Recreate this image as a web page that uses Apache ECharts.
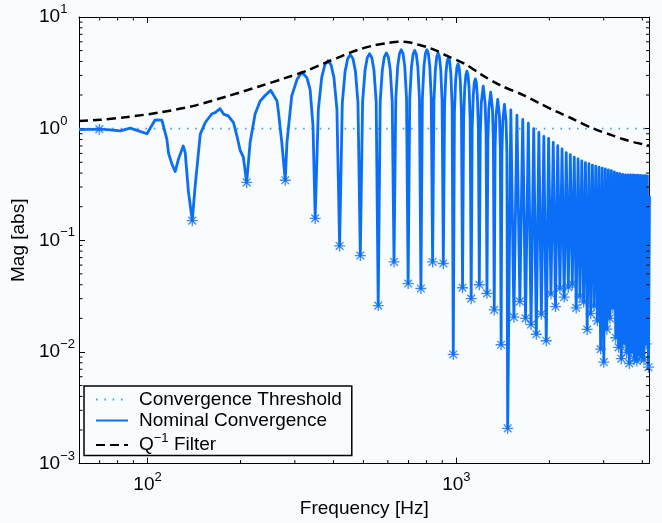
<!DOCTYPE html>
<html><head><meta charset="utf-8">
<script src="https://cdn.jsdelivr.net/npm/echarts@6/dist/echarts.min.js"></script>
<style>html,body{margin:0;padding:0;background:#f9fcfe}#c{width:662px;height:523px}</style>
</head><body><div id="c"></div>
<script>
// ---------- data ----------
const xRange = [60, 4220];
const yRange = [0.001, 10];
const xMinorTicks = [70, 80, 90, 200, 300, 400, 500, 600, 700, 800, 900, 2000, 3000, 4000];
const yMinorTicks = [0.002,0.003,0.004,0.005,0.006,0.007,0.008,0.009,
  0.02,0.03,0.04,0.05,0.06,0.07,0.08,0.09,
  0.2,0.3,0.4,0.5,0.6,0.7,0.8,0.9,
  2,3,4,5,6,7,8,9];

const thresholdFreq = [60, 4220];
const thresholdMag = [1, 1];

// notches of the nominal convergence curve (marked with *)
const notchFreq = [69.8,139.6,209.4,279.2,349,418.8,488.6,558.4,628.2,698,
  767.8,837.6,907.4,977.2,1047,1116.8,1186.6,1256.4,1326.2,1396,
  1465.8,1535.6,1605.4,1675.2,1745,1814.8,1884.6,1954.4,2024.2,2094,
  2163.8,2233.6,2303.4,2373.2,2443,2512.8,2582.6,2652.4,2722.2,2792,
  2861.8,2931.6,3001.4,3071.2,3141,3210.8,3280.6,3350.4,3420.2,3490,
  3559.8,3629.6,3699.4,3769.2,3839,3908.8,3978.6,4048.4,4118.2,4188];
const notchMag = [0.99,0.15,0.33,0.345,0.157,0.089,0.073,0.026,0.064,0.041,
  0.037,0.064,0.062,0.0095,0.0376,0.030,0.040,0.0335,0.0238,0.0116,
  0.00207,0.0205,0.0284,0.020,0.0176,0.0144,0.0218,0.0126,0.033,0.0255,
  0.037,0.031,0.038,0.0405,0.0248,0.0316,0.028,0.0159,0.022,0.0258,
  0.019,0.0106,0.0081,0.016,0.02,0.0248,0.0134,0.011,0.0087,0.012,
  0.0099,0.0079,0.010,0.0087,0.0083,0.0095,0.009,0.0085,0.0118,0.0073];

// remaining points of the nominal convergence curve (lobes between notches)
const lobePoints = [
  [60,0.98],[76,0.975],[81.6,0.955],[87.9,1.01],[93,0.96],[99.6,0.90],[105.9,1.2],[111.3,1.19],
  [115.5,0.806],[117,0.6],[119.9,0.483],[122.9,0.413],[126,0.536],[130.5,0.70],[132.4,0.614],[135.7,0.271],
  [142.7,0.31],[148.2,0.894],[153.8,1.135],[161.6,1.36],[165.6,1.39],[171.8,1.51],[176.3,1.35],[182.6,1.30],
  [189.8,1.135],[194.7,0.863],[199.5,0.64],[204.3,0.555],
  [214.9,0.754],[223,1.35],[231.6,1.77],[240.3,1.98],[250.5,2.21],[262.6,1.77],[265.6,1.39],[272.1,0.754],
  [282.8,0.754],[293,1.96],[304.7,2.75],[316,3.2],[328.3,2.85],[336.1,2.24],[343.4,1.06],
  [357.4,1.5],[366.5,2.88],[375.2,3.74],[383.9,4.05],[392.6,3.74],[401.3,2.88],[410.4,1.5],
  [427.2,1.7],[436.3,3.27],[445,4.25],[453.7,4.6],[462.4,4.25],[471.2,3.27],[480.2,1.7],
  [497,1.74],[506.1,3.33],[514.8,4.33],[523.5,4.69],[532.2,4.33],[541,3.33],[550,1.74],
  [566.8,1.76],[575.9,3.38],[584.6,4.4],[593.3,4.76],[602,4.4],[610.8,3.38],[619.8,1.76],
  [636.6,1.88],[645.7,3.61],[654.4,4.7],[663.1,5.09],[671.8,4.7],[680.6,3.61],[689.6,1.88],
  [706.4,1.86],[715.5,3.56],[724.2,4.64],[732.9,5.02],[741.6,4.64],[750.4,3.56],[759.4,1.86],
  [776.2,1.88],[785.3,3.61],[794,4.7],[802.7,5.09],[811.4,4.7],[820.2,3.61],[829.2,1.88],
  [846,1.76],[855.1,3.38],[863.8,4.4],[872.5,4.76],[881.2,4.4],[890,3.38],[899,1.76],
  [915.8,1.61],[924.9,3.09],[933.6,4.02],[942.3,4.35],[951,4.02],[959.8,3.09],[968.8,1.61],
  [985.6,1.41],[994.7,2.7],[1003.4,3.51],[1012.1,3.8],[1020.8,3.51],[1029.6,2.7],[1038.6,1.41],
  [1055.4,1.21],[1064.5,2.32],[1073.2,3.02],[1081.9,3.27],[1090.6,3.02],[1099.4,2.32],[1108.4,1.21],
  [1125.2,1.03],[1134.3,1.98],[1143,2.58],[1151.7,2.79],[1160.4,2.58],[1169.2,1.98],[1178.2,1.03],
  [1195,0.89],[1204.1,1.70],[1221.5,2.40],[1239,1.70],[1248,0.89],
  [1264.8,0.78],[1273.9,1.5],[1291.3,2.12],[1308.8,1.5],[1317.8,0.78],
  [1334.6,0.68],[1343.7,1.3],[1361.1,1.83],[1378.6,1.3],[1387.6,0.68],
  [1404.4,0.61],[1413.5,1.17],[1430.9,1.65],[1448.4,1.17],[1457.4,0.61],
  [1500.7,1.47],[1570.5,1.32],[1640.3,1.21],[1710.1,1.12],[1779.9,1.00],
  [1849.7,0.925],[1919.5,0.852],[1989.3,0.818],[2059.1,0.754],[2128.9,0.703],
  [2198.7,0.66],[2268.5,0.61],[2338.3,0.585],[2408.1,0.557],[2477.9,0.535],
  [2547.7,0.515],[2617.5,0.497],[2687.3,0.485],[2757.1,0.472],[2826.9,0.462],
  [2896.7,0.452],[2966.5,0.443],[3036.3,0.435],[3106.1,0.428],[3175.9,0.42],
  [3245.7,0.41],[3315.5,0.40],[3385.3,0.395],[3455.1,0.39],[3524.9,0.386],
  [3594.7,0.386],[3664.5,0.385],[3734.3,0.385],[3804.1,0.384],[3873.9,0.383],
  [3943.7,0.382],[4013.5,0.38],[4083.3,0.379],[4153.1,0.378],[4220,0.25]
];

// Q^-1 filter
const qFreq = [60,70,86,110,141,181,231,280,328,381,420,453,488,539,600,650,700,745,800,865,930,1057,1205,1386,1647,1861,2113,2386,2780,3200,3455,3800,4122,4220];
const qMag  = [1.17,1.20,1.27,1.40,1.6,1.95,2.4,2.85,3.3,3.95,4.4,4.8,5.15,5.55,5.85,6.0,5.95,5.7,5.4,4.98,4.5,3.85,3.05,2.45,2.0,1.68,1.42,1.22,1.0,0.87,0.807,0.75,0.713,0.70];

const legendNames = ['Convergence Threshold', 'Nominal Convergence', 'Q-1 Filter'];

// ---------- chart ----------
const FONT = '"Liberation Sans", Helvetica, Arial, sans-serif';
const BLUE = '#0a6ef7';
const zip = (a, b) => a.map((v, i) => [v, b[i]]);
const nominal = lobePoints.concat(zip(notchFreq, notchMag)).sort((p, q) => p[0] - q[0]);
const stars = zip(notchFreq, notchMag);

function powLabel(v) {
  const l = Math.log10(v), e = Math.round(l);
  if (Math.abs(l - e) > 1e-6) return '';
  return '{b|10}{s|' + (e < 0 ? '\u2212' + (-e) : String(e)) + '}';
}
const labelRich = {
  b: { fontSize: 19, lineHeight: 28, fontFamily: FONT, color: '#000' },
  s: { fontSize: 13, lineHeight: 14, verticalAlign: 'top', fontFamily: FONT, color: '#000' }
};
const axisCommonLine = { show: true, lineStyle: { color: '#000', width: 1 } };
const tickCommon = { show: true, inside: true, length: 6, lineStyle: { color: '#000', width: 1 } };

const chart = echarts.init(document.getElementById('c'), null, { renderer: 'canvas' });
chart.setOption({
  animation: false,
  backgroundColor: '#f9fcfe',
  grid: { left: 79, right: 12.5, top: 17, bottom: 56, containLabel: false },
  xAxis: [{
    type: 'log', logBase: 10, min: xRange[0], max: xRange[1], position: 'bottom',
    axisLine: axisCommonLine, axisTick: tickCommon, splitLine: { show: false },
    axisLabel: { margin: 7, formatter: powLabel, rich: labelRich, showMinLabel: false, showMaxLabel: false },
    name: 'Frequency [Hz]', nameLocation: 'middle', nameGap: 31,
    nameTextStyle: { fontSize: 19, fontFamily: FONT, color: '#000' }
  }, {
    type: 'log', logBase: 10, min: xRange[0], max: xRange[1], position: 'top',
    axisLine: axisCommonLine, axisTick: tickCommon, splitLine: { show: false },
    axisLabel: { show: false }
  }],
  yAxis: [{
    type: 'log', logBase: 10, min: yRange[0], max: yRange[1], position: 'left',
    axisLine: axisCommonLine, axisTick: tickCommon, splitLine: { show: false },
    axisLabel: { align: 'left', margin: 40, formatter: powLabel, rich: labelRich },
    name: 'Mag [abs]', nameLocation: 'middle', nameGap: 45,
    nameTextStyle: { fontSize: 19, fontFamily: FONT, color: '#000' }
  }, {
    type: 'log', logBase: 10, min: yRange[0], max: yRange[1], position: 'right',
    axisLine: axisCommonLine, axisTick: tickCommon, splitLine: { show: false },
    axisLabel: { show: false }
  }],
  legend: {
    data: legendNames, orient: 'vertical', left: 84, top: 386,
    padding: [4, 10, 1, 11], itemGap: 2, itemWidth: 32, itemHeight: 14,
    borderColor: '#000', borderWidth: 1.5, backgroundColor: '#f9fcfe',
    selectedMode: false,
    itemStyle: { opacity: 0, borderWidth: 0 },
    formatter: function (name) {
      if (name === 'Q-1 Filter') return '{q|Q}{s|\u22121}{q| Filter}';
      return '{n|' + name + '}';
    },
    textStyle: {
      fontSize: 19, fontFamily: FONT, color: '#000', padding: [0, 0, 0, 6],
      rich: {
        n: { fontSize: 19, lineHeight: 20, fontFamily: FONT, color: '#000' },
        q: { fontSize: 19, lineHeight: 26, fontFamily: FONT, color: '#000' },
        s: { fontSize: 13, lineHeight: 14, verticalAlign: 'top', fontFamily: FONT, color: '#000' }
      }
    }
  },
  series: [{
    name: 'Convergence Threshold', type: 'line', symbol: 'none', silent: true,
    data: zip(thresholdFreq, thresholdMag), z: 2,
    lineStyle: { color: '#4f97f8', width: 1.6, type: [1.6, 6.7] }
  }, {
    name: 'Nominal Convergence', type: 'line', symbol: 'none', silent: true,
    data: nominal, z: 3,
    lineStyle: { color: BLUE, width: 2.8, join: 'round' }, itemStyle: { color: BLUE }
  }, {
    name: 'notches', type: 'scatter', silent: true, data: stars, z: 4,
    symbol: 'path://M5 0L5 10M0 5L10 5M1.5 1.5L8.5 8.5M1.5 8.5L8.5 1.5', symbolSize: 11,
    itemStyle: { color: 'none', borderColor: BLUE, borderWidth: 1.3 }
  }, {
    name: 'Q-1 Filter', type: 'line', symbol: 'none', silent: true, smooth: 0.3,
    data: zip(qFreq, qMag), z: 5,
    lineStyle: { color: '#000', width: 2.5, type: [9, 5] }, itemStyle: { color: '#000' }
  }, {
    name: 'xminor', type: 'custom', silent: true, z: 10, clip: false,
    data: xMinorTicks.map(v => [v, 1]),
    renderItem: function (params, api) {
      const v = api.value(0);
      const b = api.coord([v, yRange[0]]), t = api.coord([v, yRange[1]]);
      return { type: 'group', children: [
        { type: 'line', shape: { x1: b[0], y1: b[1], x2: b[0], y2: b[1] - 3.5 }, style: { stroke: '#000', lineWidth: 1 } },
        { type: 'line', shape: { x1: t[0], y1: t[1], x2: t[0], y2: t[1] + 3.5 }, style: { stroke: '#000', lineWidth: 1 } }
      ] };
    }
  }, {
    name: 'yminor', type: 'custom', silent: true, z: 10, clip: false,
    data: yMinorTicks.map(v => [100, v]),
    renderItem: function (params, api) {
      const v = api.value(1);
      const l = api.coord([xRange[0], v]), r = api.coord([xRange[1], v]);
      return { type: 'group', children: [
        { type: 'line', shape: { x1: l[0], y1: l[1], x2: l[0] + 3.5, y2: l[1] }, style: { stroke: '#000', lineWidth: 1 } },
        { type: 'line', shape: { x1: r[0], y1: r[1], x2: r[0] - 3.5, y2: r[1] }, style: { stroke: '#000', lineWidth: 1 } }
      ] };
    }
  }]
});
</script>
</body></html>
